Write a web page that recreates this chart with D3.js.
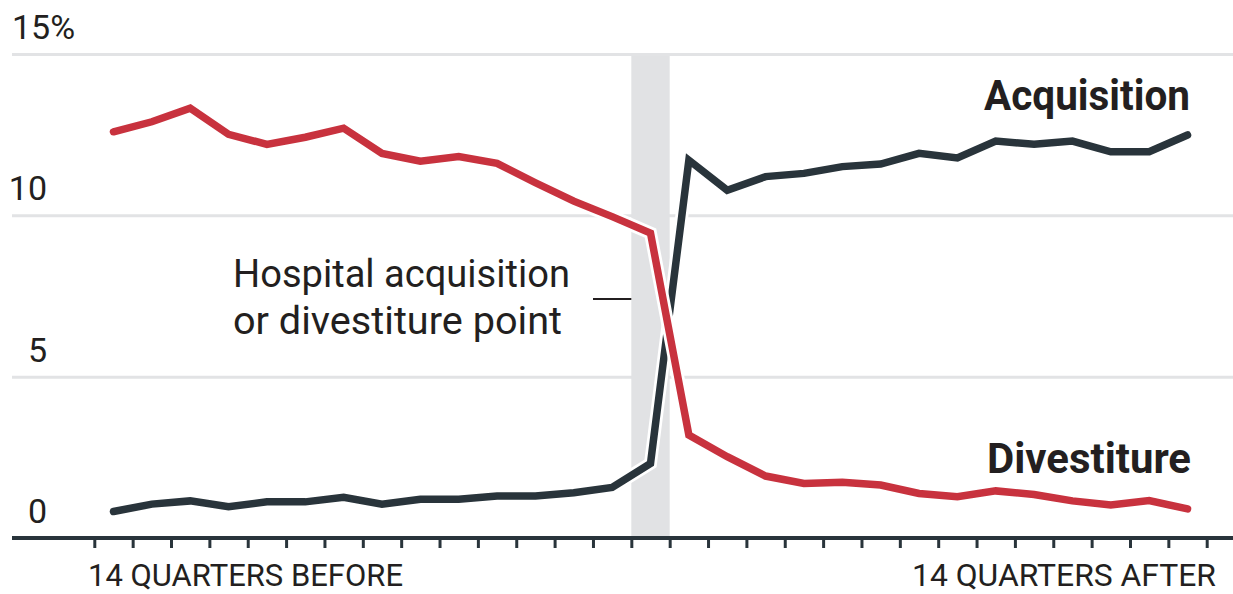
<!DOCTYPE html>
<html>
<head>
<meta charset="utf-8">
<script src="https://cdn.jsdelivr.net/npm/d3@7"></script>
<style>
  body { margin: 0; background: #fff; }
  svg { display: block; font-family: Roboto, "Liberation Sans", sans-serif; }
</style>
</head>
<body>
<script>
var width = 1233;
var height = 594;

// quarters relative to the hospital acquisition / divestiture point
var quarters = [-14, -13, -12, -11, -10, -9, -8, -7, -6, -5, -4, -3, -2, -1, 0,
	1, 2, 3, 4, 5, 6, 7, 8, 9, 10, 11, 12, 13, 14];

var acquisition = [0.82, 1.05, 1.15, 0.97, 1.12, 1.12, 1.26, 1.05, 1.2, 1.2, 1.3, 1.3, 1.4, 1.57, 2.31,
	11.71, 10.78, 11.2, 11.3, 11.51, 11.59, 11.92, 11.78, 12.3, 12.2, 12.3, 11.97, 11.97, 12.49];

var divestiture = [12.59, 12.9, 13.32, 12.51, 12.2, 12.42, 12.7, 11.92, 11.68, 11.82, 11.61, 11.01, 10.44, 9.96, 9.45,
	3.19, 2.52, 1.92, 1.69, 1.73, 1.64, 1.38, 1.28, 1.46, 1.35, 1.15, 1.02, 1.16, 0.9];

var yTicks = [0, 5, 10, 15];

var svg = d3.select("body").append("svg")
	.attr("width", width)
	.attr("height", height);

var x = d3.scaleLinear().domain([-14.5, 14.5]).range([94.3, 1206.7]);
var y = d3.scaleLinear().domain([0, 15]).range([538, 54]);

// gridlines
svg.append("g")
	.attr("transform", "translate(12,0)")
	.call(d3.axisLeft(y).tickValues([5, 10, 15]).tickSize(-(width - 12)).tickFormat(""))
	.call(function(g) {
		g.select(".domain").remove();
		g.selectAll(".tick line").attr("stroke", "#e2e3e5").attr("stroke-width", 3);
	});

// y labels
svg.append("g").selectAll("text")
	.data(yTicks)
	.enter().append("text")
	.attr("x", function(d) { return d === 15 ? 12 : 47; })
	.attr("y", function(d) { return y(d) - 15; })
	.attr("text-anchor", function(d) { return d === 15 ? "start" : "end"; })
	.attr("font-size", 34)
	.attr("fill", "#231f20")
	.text(function(d) { return d === 15 ? "15%" : d; });

// event band
svg.append("rect")
	.attr("x", x(-0.5))
	.attr("width", x(0.5) - x(-0.5))
	.attr("y", y(15) + 2)
	.attr("height", y(0) - y(15) - 2)
	.attr("fill", "#e1e2e4");

// baseline + ticks
var tickVals = [];
for (var i = 0; i <= quarters.length; i++) tickVals.push(quarters[0] - 0.5 + i);

svg.append("g")
	.attr("transform", "translate(0," + y(0) + ")")
	.call(d3.axisBottom(x).tickValues(tickVals).tickSize(10).tickSizeOuter(0).tickFormat(""))
	.call(function(g) {
		g.select(".domain").remove();
		g.selectAll(".tick line").attr("stroke", "#29343b").attr("stroke-width", 3);
	});

svg.append("line")
	.attr("x1", 12).attr("x2", width)
	.attr("y1", y(0)).attr("y2", y(0))
	.attr("stroke", "#29343b")
	.attr("stroke-width", 4);

var line = d3.line()
	.x(function(d, i) { return x(quarters[i]); })
	.y(function(d) { return y(d); });

function drawSeries(values, color) {
	svg.append("path")
		.datum(values)
		.attr("d", line)
		.attr("fill", "none")
		.attr("stroke", "#fff")
		.attr("stroke-width", 13)
		.attr("stroke-linecap", "round")
		.attr("stroke-linejoin", "miter");
	svg.append("path")
		.datum(values)
		.attr("d", line)
		.attr("fill", "none")
		.attr("stroke", color)
		.attr("stroke-width", 7.5)
		.attr("stroke-linecap", "round")
		.attr("stroke-linejoin", "miter");
}

drawSeries(acquisition, "#29343b");
drawSeries(divestiture, "#c8323e");

// x labels
svg.append("text")
	.attr("x", 88).attr("y", 586)
	.attr("font-size", 31)
	.attr("fill", "#231f20")
	.attr("textLength", 315)
	.attr("lengthAdjust", "spacingAndGlyphs")
	.text("14 QUARTERS BEFORE");

svg.append("text")
	.attr("x", 912).attr("y", 586)
	.attr("font-size", 31)
	.attr("fill", "#231f20")
	.attr("textLength", 304)
	.attr("lengthAdjust", "spacingAndGlyphs")
	.text("14 QUARTERS AFTER");

// series labels
svg.append("text")
	.attr("x", 984).attr("y", 110)
	.attr("font-size", 42)
	.attr("font-weight", "bold")
	.attr("fill", "#231f20")
	.attr("textLength", 206)
	.attr("lengthAdjust", "spacingAndGlyphs")
	.text("Acquisition");

svg.append("text")
	.attr("x", 987).attr("y", 473)
	.attr("font-size", 42)
	.attr("font-weight", "bold")
	.attr("fill", "#231f20")
	.attr("textLength", 204)
	.attr("lengthAdjust", "spacingAndGlyphs")
	.text("Divestiture");

// annotation
svg.append("text")
	.attr("x", 233).attr("y", 287)
	.attr("font-size", 39)
	.attr("fill", "#231f20")
	.attr("textLength", 337)
	.attr("lengthAdjust", "spacingAndGlyphs")
	.text("Hospital acquisition");

svg.append("text")
	.attr("x", 233).attr("y", 334)
	.attr("font-size", 39)
	.attr("fill", "#231f20")
	.attr("textLength", 329)
	.attr("lengthAdjust", "spacingAndGlyphs")
	.text("or divestiture point");

svg.append("line")
	.attr("x1", 593).attr("x2", x(-0.5))
	.attr("y1", 299).attr("y2", 299)
	.attr("stroke", "#231f20")
	.attr("stroke-width", 2);
</script>
</body>
</html>
